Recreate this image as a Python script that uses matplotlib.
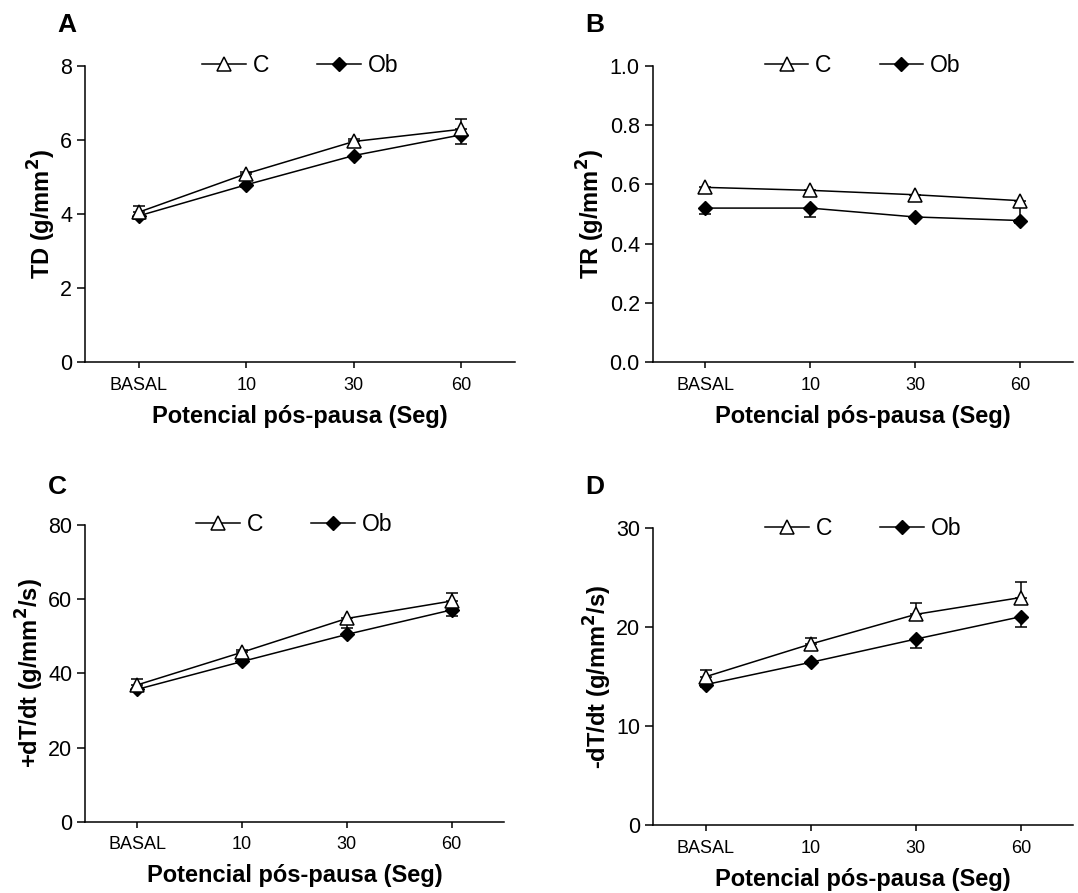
import matplotlib.pyplot as plt
import numpy as np

plt.rcParams['font.family'] = ['Liberation Sans', 'DejaVu Sans']

conditions = ["BASAL", "10", "30", "60"]

# TD (g/mm2)
td_c = [4.05, 5.09, 5.96, 6.29]
td_c_lo = [0.0, 0.0, 0.0, 0.0]
td_c_hi = [0.17, 0.05, 0.06, 0.29]
td_ob = [3.95, 4.79, 5.58, 6.14]
td_ob_lo = [0.08, 0.06, 0.05, 0.26]
td_ob_hi = [0.0, 0.0, 0.0, 0.0]

# TR (g/mm2)
tr_c = [0.59, 0.58, 0.565, 0.545]
tr_c_lo = [0.018, 0.017, 0.022, 0.065]
tr_c_hi = [0.0, 0.0, 0.0, 0.0]
tr_ob = [0.52, 0.52, 0.49, 0.478]
tr_ob_lo = [0.02, 0.03, 0.006, 0.008]
tr_ob_hi = [0.0, 0.0, 0.0, 0.0]

# +dT/dt (g/mm2/s)
dpos_c = [36.9, 45.7, 54.8, 59.5]
dpos_c_lo = [0.0, 0.0, 2.5, 0.0]
dpos_c_hi = [1.5, 0.6, 0.0, 2.1]
dpos_ob = [35.7, 43.2, 50.5, 57.1]
dpos_ob_lo = [0.5, 0.5, 0.5, 1.6]
dpos_ob_hi = [0.0, 0.0, 0.0, 0.0]

# -dT/dt (g/mm2/s)
dneg_c = [15.0, 18.3, 21.3, 23.0]
dneg_c_lo = [0.0, 0.0, 0.0, 0.0]
dneg_c_hi = [0.7, 0.6, 1.1, 1.6]
dneg_ob = [14.2, 16.45, 18.8, 21.06]
dneg_ob_lo = [0.2, 0.2, 0.9, 1.06]
dneg_ob_hi = [0.0, 0.0, 0.0, 0.0]


def draw_panel(ax, ylabel, c, c_err, ob, ob_err, ymax, yticks, fmt):
    x = np.arange(len(conditions))

    # error bars first so the markers sit on top of the caps
    ax.errorbar(x, c, yerr=c_err, fmt='none', ecolor='black',
                elinewidth=1.1, capsize=4.3, capthick=1.1, zorder=2)
    ax.errorbar(x, ob, yerr=ob_err, fmt='none', ecolor='black',
                elinewidth=1.1, capsize=4.3, capthick=1.1, zorder=2)

    ax.plot(x, c, color='black', lw=1.1, marker='^', ms=9.5,
            mfc='white', mec='black', mew=1.1, label='C', zorder=4)
    ax.plot(x, ob, color='black', lw=1.1, marker='D', ms=7,
            mfc='black', mec='black', label='Ob', zorder=3)

    ax.set_xlim(-0.5, 3.5)
    ax.set_ylim(0, ymax)
    ax.set_xticks(x)
    ax.set_xticklabels(conditions, fontsize=13)
    ax.set_yticks(yticks)
    ax.set_yticklabels([fmt.format(v) for v in yticks], fontsize=15.5)

    for side in ['top', 'right']:
        ax.spines[side].set_visible(False)
    for side in ['left', 'bottom']:
        ax.spines[side].set_linewidth(1.1)
    ax.tick_params(axis='y', length=5.8, width=1.1, pad=3.5)
    ax.tick_params(axis='x', length=4.5, width=1.1, pad=6)

    ax.set_xlabel('Potencial pós-pausa (Seg)', fontsize=17,
                  fontweight='bold', labelpad=8)
    ax.set_ylabel(ylabel, fontsize=17, fontweight='bold', labelpad=1.5)

    leg = ax.legend(loc='center', bbox_to_anchor=(0.5, 1.0), ncol=2,
                    frameon=False, fontsize=16.5, handlelength=1.9,
                    handletextpad=0.3, columnspacing=2.1, borderpad=0,
                    borderaxespad=0)
    leg.set_zorder(5)


fig = plt.figure(figsize=(10.78, 8.93), dpi=100)

ax_a = fig.add_axes([0.0789, 0.5946, 0.3989, 0.3315])
ax_b = fig.add_axes([0.6055, 0.5946, 0.3896, 0.3315])
ax_c = fig.add_axes([0.0789, 0.0798, 0.3885, 0.3323])
ax_d = fig.add_axes([0.6060, 0.0761, 0.3896, 0.3323])

draw_panel(ax_a, r'TD (g/mm$^\mathbf{2}$)',
           td_c, [td_c_lo, td_c_hi], td_ob, [td_ob_lo, td_ob_hi],
           8, [0, 2, 4, 6, 8], '{:.0f}')
draw_panel(ax_b, r'TR (g/mm$^\mathbf{2}$)',
           tr_c, [tr_c_lo, tr_c_hi], tr_ob, [tr_ob_lo, tr_ob_hi],
           1.0, [0.0, 0.2, 0.4, 0.6, 0.8, 1.0], '{:.1f}')
draw_panel(ax_c, r'+dT/dt (g/mm$^\mathbf{2}$/s)',
           dpos_c, [dpos_c_lo, dpos_c_hi], dpos_ob, [dpos_ob_lo, dpos_ob_hi],
           80, [0, 20, 40, 60, 80], '{:.0f}')
draw_panel(ax_d, r'-dT/dt (g/mm$^\mathbf{2}$/s)',
           dneg_c, [dneg_c_lo, dneg_c_hi], dneg_ob, [dneg_ob_lo, dneg_ob_hi],
           30, [0, 10, 20, 30], '{:.0f}')

# panel letters
for letter, (lx, ly) in zip('ABCD', [(0.062, 0.972), (0.552, 0.972),
                                     (0.053, 0.455), (0.552, 0.455)]):
    fig.text(lx, ly, letter, fontsize=19, fontweight='bold',
             ha='center', va='center')

fig.savefig('out.png', dpi=100)
